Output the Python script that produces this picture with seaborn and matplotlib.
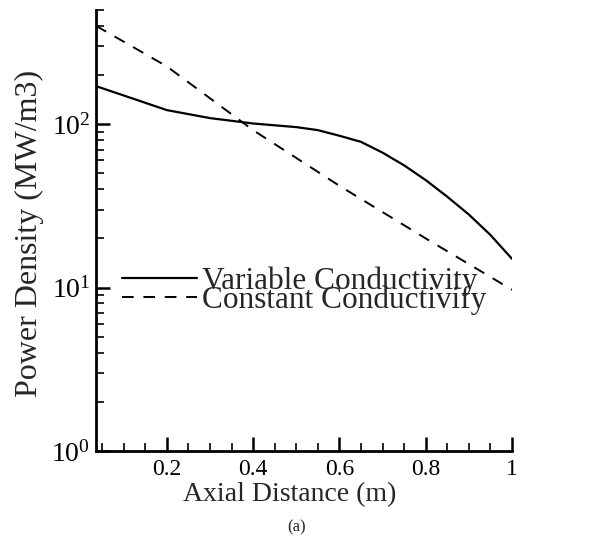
import numpy as np
import pandas as pd
import matplotlib
matplotlib.use("Agg")
import matplotlib.pyplot as plt
import seaborn as sns
from matplotlib.ticker import MultipleLocator, LogLocator, NullFormatter, FixedLocator

# ---- data ----
x_var = [0.036, 0.1, 0.2, 0.3, 0.4, 0.5, 0.55, 0.6, 0.65, 0.7, 0.75, 0.8, 0.85, 0.9, 0.95, 1.0]
y_var = [171, 150, 122, 109, 101, 96, 92, 85, 78, 67, 56, 45.5, 36, 28, 21, 15]
x_const = [0.036, 0.2, 0.4, 0.6, 0.8, 1.0]
y_const = [400, 226, 92, 42, 20, 9.7]
label_var = "Variable Conductivity"
label_const = "Constant Conductivify"
xlabel = "Axial Distance (m)"
ylabel = "Power Density (MW/m3)"
caption = "(a)"
xticks = [0.2, 0.4, 0.6, 0.8, 1.0]
xticklabels = ["0.2", "0.4", "0.6", "0.8", "1"]

sns.set_style("ticks")
plt.rcParams["font.family"] = ["Liberation Serif", "DejaVu Serif"]
plt.rcParams["mathtext.fontset"] = "custom"
plt.rcParams["mathtext.rm"] = "Liberation Serif"
plt.rcParams["mathtext.it"] = "Liberation Serif:italic"

fig = plt.figure(figsize=(5.89, 5.41), dpi=100)
ax = fig.add_axes([96/589, 1-451/541, (512-96)/589, (451-10)/541])

df_var = pd.DataFrame({"x": x_var, "y": y_var})
df_const = pd.DataFrame({"x": x_const, "y": y_const})
sns.lineplot(data=df_var, x="x", y="y", ax=ax, color="black", lw=1.6, label=label_var)
sns.lineplot(data=df_const, x="x", y="y", ax=ax, color="black", lw=1.4,
             dashes=False, label=label_const)
ax.lines[1].set_dashes((6, 5))

ax.set_yscale("log")
ax.set_ylim(1, 500)
ax.set_xlim(0.036, 1.0)

ax.xaxis.set_major_locator(FixedLocator(xticks))
ax.set_xticklabels(xticklabels)
ax.xaxis.set_minor_locator(MultipleLocator(0.05))
ax.yaxis.set_major_locator(LogLocator(base=10, numticks=10))
ax.yaxis.set_minor_locator(LogLocator(base=10, subs=np.arange(2, 10), numticks=20))
ax.yaxis.set_minor_formatter(NullFormatter())

ax.tick_params(which="major", direction="in", length=10, width=1.8, pad=6, colors="black")
ax.tick_params(axis="x", which="major", labelsize=17)
ax.tick_params(axis="y", which="major", labelsize=20, pad=4)
ax.tick_params(which="minor", direction="in", length=6, width=1.4)
for s in ["top", "right"]:
    ax.spines[s].set_visible(False)
for s in ["left", "bottom"]:
    ax.spines[s].set_linewidth(2.0)
    ax.spines[s].set_color("black")

ax.set_xlabel(xlabel, fontsize=20)
ax.set_ylabel(ylabel, fontsize=23)
ax.yaxis.set_label_coords(-0.125, 0.494)
ax.xaxis.set_label_coords(0.466, -0.07)

leg = ax.legend(loc="center left", bbox_to_anchor=(0.0625, 0.364), frameon=False,
                fontsize=22.5, handlelength=2.4, handletextpad=0.15,
                labelspacing=-0.345, borderaxespad=0, borderpad=0)

fig.text(297/589, 1-527/541, caption, ha="center", va="center", fontsize=12)

fig.savefig("out.png", dpi=100, facecolor="white")
